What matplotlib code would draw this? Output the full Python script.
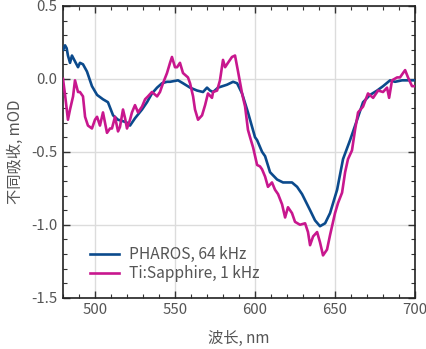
import numpy as np
import matplotlib
matplotlib.use('Agg')
import matplotlib.pyplot as plt
from matplotlib.ticker import MultipleLocator

plt.rcParams['font.family'] = ['Noto Sans CJK SC', 'DejaVu Sans']

# data
pharos_wl = [480.2, 481.3, 482.3, 483.1, 484.4, 485.6, 487.5, 489.4, 490.6, 492.5,
             495.0, 498.1, 501.3, 505.0, 508.1, 511.3, 514.4, 517.5, 520.0, 521.9,
             525.0, 529.4, 532.5, 535.6, 538.8, 541.9, 545.0, 546.9, 551.9, 555.0,
             559.4, 563.8, 567.5, 570.0, 571.9, 573.8, 576.9, 582.5, 586.3, 588.8,
             591.9, 595.6, 600.0, 601.3, 604.4, 606.3, 609.4, 613.8, 617.5, 623.1,
             626.3, 629.4, 634.4, 637.5, 640.6, 643.8, 646.9, 651.3, 655.0, 659.4,
             663.8, 667.5, 671.9, 676.3, 680.0, 684.4, 687.5, 691.9, 700.0]
pharos_val = [0.20, 0.23, 0.21, 0.16, 0.11, 0.16, 0.12, 0.08, 0.11, 0.10,
              0.05, -0.05, -0.11, -0.14, -0.16, -0.25, -0.28, -0.29, -0.30, -0.32,
              -0.27, -0.21, -0.16, -0.10, -0.06, -0.03, -0.02, -0.02, -0.01, -0.03,
              -0.06, -0.08, -0.09, -0.06, -0.08, -0.09, -0.06, -0.04, -0.02, -0.03,
              -0.10, -0.23, -0.40, -0.42, -0.50, -0.53, -0.64, -0.69, -0.71, -0.71,
              -0.74, -0.79, -0.90, -0.97, -1.01, -0.99, -0.92, -0.76, -0.55, -0.42,
              -0.28, -0.16, -0.11, -0.08, -0.05, -0.01, -0.02, -0.01, -0.01]

tisa_wl = [480.0, 481.3, 483.1, 484.4, 486.3, 487.5, 489.4, 490.6, 492.5, 493.8,
           495.6, 498.1, 500.0, 501.3, 503.1, 505.0, 507.5, 509.4, 510.6, 512.5,
           514.4, 515.6, 517.5, 518.8, 520.0, 521.9, 523.1, 525.0, 526.9, 529.4,
           531.3, 533.1, 535.6, 538.8, 540.6, 542.5, 545.0, 546.9, 548.1, 550.0,
           551.3, 553.1, 555.0, 558.1, 559.4, 561.3, 562.5, 564.4, 566.9, 568.8,
           570.6, 573.1, 573.8, 576.3, 578.1, 580.0, 581.3, 583.1, 585.6, 587.5,
           589.4, 591.9, 593.8, 595.6, 596.9, 598.8, 601.3, 603.1, 604.4, 606.3,
           608.1, 610.6, 612.5, 614.4, 616.9, 618.8, 620.6, 623.1, 625.0, 628.1,
           631.3, 633.1, 634.4, 636.3, 638.8, 640.6, 642.5, 645.0, 646.9, 650.0,
           651.9, 654.4, 656.3, 658.1, 660.6, 662.5, 664.4, 667.5, 670.6, 673.8,
           676.9, 680.0, 682.5, 683.8, 685.6, 688.8, 690.6, 692.5, 693.8, 695.6,
           698.1, 700.0]
tisa_val = [0.00, -0.11, -0.28, -0.21, -0.12, -0.01, -0.09, -0.09, -0.12, -0.26,
            -0.32, -0.34, -0.28, -0.26, -0.32, -0.23, -0.37, -0.34, -0.34, -0.26,
            -0.36, -0.33, -0.21, -0.27, -0.34, -0.28, -0.23, -0.18, -0.23, -0.19,
            -0.14, -0.12, -0.09, -0.12, -0.09, -0.03, 0.04, 0.11, 0.15, 0.08,
            0.08, 0.11, 0.04, 0.01, -0.03, -0.12, -0.21, -0.28, -0.25, -0.18,
            -0.10, -0.13, -0.09, -0.08, -0.01, 0.13, 0.08, 0.11, 0.15, 0.16,
            0.05, -0.10, -0.19, -0.35, -0.40, -0.47, -0.59, -0.60, -0.62, -0.67,
            -0.74, -0.71, -0.76, -0.79, -0.86, -0.95, -0.88, -0.92, -0.98, -1.00,
            -0.99, -1.05, -1.14, -1.08, -1.05, -1.12, -1.21, -1.17, -1.07, -0.92,
            -0.85, -0.78, -0.64, -0.55, -0.49, -0.35, -0.23, -0.19, -0.10, -0.13,
            -0.08, -0.09, -0.06, -0.13, -0.01, 0.01, 0.01, 0.04, 0.06, 0.01,
            -0.05, -0.05]

labels = ['PHAROS, 64 kHz', 'Ti:Sapphire, 1 kHz']
colors = ['#0b4a8c', '#c8178e']

# ================================================
fig = plt.figure(figsize=(4.27, 3.49), dpi=100)
ax = fig.add_axes([0.1475, 0.147, 0.8245, 0.836])

ax.plot(pharos_wl, pharos_val, color=colors[0], lw=1.9, label=labels[0], zorder=3)
ax.plot(tisa_wl, tisa_val, color=colors[1], lw=1.9, label=labels[1], zorder=3)

ax.set_xlim(480, 700)
ax.set_ylim(-1.5, 0.5)
ax.xaxis.set_major_locator(MultipleLocator(50))
ax.xaxis.set_minor_locator(MultipleLocator(10))
ax.yaxis.set_minor_locator(MultipleLocator(0.1))
ax.set_yticks([-1.5, -1.0, -0.5, 0.0, 0.5])
ax.set_yticklabels(['-1.5', '-1.0', '-0.5', '0.0', '0.5'])

ax.grid(True, which='major', color='#dcdcdc', lw=1, zorder=0)
ax.tick_params(which='both', direction='in', top=True, right=True,
               labelsize=10.8, labelcolor='#555555', color='#333333')
ax.tick_params(which='major', length=5, width=1, pad=4)
ax.tick_params(which='minor', length=3, width=0.8)
for s in ax.spines.values():
    s.set_color('#222222')
    s.set_linewidth(1.2)

ax.set_xlabel('波长, nm', fontsize=11, color='#555555', labelpad=9)
ax.set_ylabel('不同吸收, mOD', fontsize=11, color='#555555', labelpad=5)

leg = ax.legend(loc='lower left', bbox_to_anchor=(0.045, 0.016), frameon=False,
                fontsize=11.2, handlelength=1.9, handletextpad=0.6,
                labelspacing=0.12, borderpad=0.2)
for t in leg.get_texts():
    t.set_color('#555555')

fig.savefig('out.png', dpi=100)
